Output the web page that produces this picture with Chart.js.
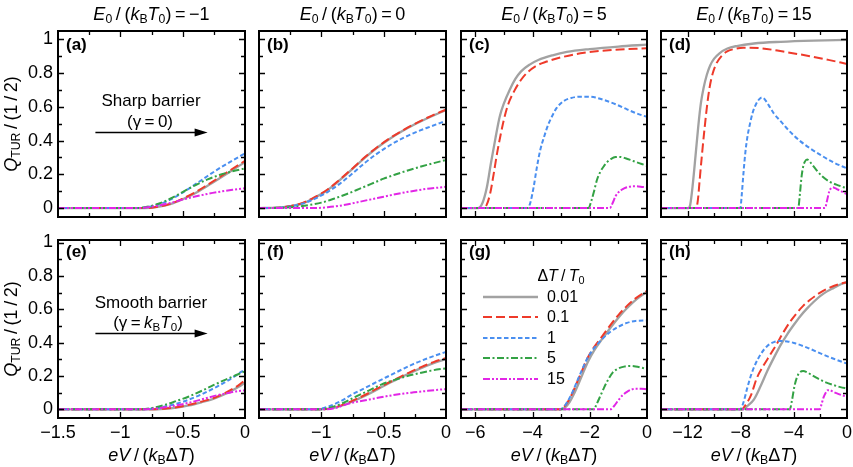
<!DOCTYPE html>
<html>
<head>
<meta charset="utf-8">
<script src="https://cdn.jsdelivr.net/npm/chart.js@4/dist/chart.umd.min.js"></script>
<style>
html,body{margin:0;padding:0;background:#fff;}
#wrap{position:relative;width:853px;height:467px;overflow:hidden;background:#fff;font-family:"Liberation Sans",Arial,Helvetica,sans-serif;color:#000;}
#wrap canvas{position:absolute;}
.t{position:absolute;white-space:nowrap;line-height:1;}
.t sub{font-size:0.68em;vertical-align:-0.28em;line-height:0;}
</style>
</head>
<body>
<div id="wrap"></div>
<script>
// ---------------- series meta ----------------
const DT_LABELS = ['0.01', '0.1', '1', '5', '15'];
const DT_COLORS = ['#a2a2a2', '#ee3a2a', '#4a8ff0', '#33a244', '#e226e6'];
const DT_DASH   = [[], [9, 4], [4.5, 2.5], [7, 2.5, 2, 2.5], [7, 2, 2, 2, 2, 2]];
const DT_WIDTH  = [2.3, 2, 2, 2, 2];

// ---------------- tick labels ----------------
const Y_TICKS     = [0, 0.2, 0.4, 0.6, 0.8, 1];
const X_TICKS_A   = [-1.5, -1, -0.5, 0];
const X_TICKS_B   = [-1, -0.5, 0];
const X_TICKS_C   = [-6, -4, -2, 0];
const X_TICKS_D   = [-12, -8, -4, 0];

// ---------------- panel (a): E0/(kBT0)=-1, sharp ----------------
const a_001_x = [-1.5, -0.8, -0.7, -0.6, -0.5, -0.4, -0.3, -0.2, -0.1, 0];
const a_001_y = [0, 0, 0.007, 0.023, 0.052, 0.088, 0.132, 0.178, 0.225, 0.272];
const a_01_x  = [-1.5, -0.8, -0.7, -0.6, -0.5, -0.4, -0.3, -0.2, -0.1, 0];
const a_01_y  = [0, 0, 0.008, 0.025, 0.056, 0.093, 0.138, 0.185, 0.233, 0.28];
const a_1_x   = [-1.5, -0.85, -0.8, -0.7, -0.6, -0.5, -0.4, -0.3, -0.2, -0.1, 0];
const a_1_y   = [0, 0, 0.004, 0.02, 0.05, 0.092, 0.14, 0.19, 0.238, 0.282, 0.324];
const a_5_x   = [-1.5, -0.85, -0.8, -0.7, -0.6, -0.5, -0.4, -0.3, -0.2, -0.1, 0];
const a_5_y   = [0, 0, 0.005, 0.024, 0.055, 0.095, 0.135, 0.17, 0.197, 0.218, 0.235];
const a_15_x  = [-1.5, -0.85, -0.8, -0.7, -0.6, -0.5, -0.4, -0.3, -0.2, -0.1, 0];
const a_15_y  = [0, 0, 0.003, 0.014, 0.03, 0.05, 0.068, 0.084, 0.097, 0.108, 0.117];

// ---------------- panel (b): E0/(kBT0)=0, sharp ----------------
const b_001_x = [-1.5, -1.35, -1.25, -1.15, -1.05, -0.95, -0.85, -0.75, -0.65, -0.55, -0.45, -0.35, -0.25, -0.15, -0.05, 0];
const b_001_y = [0, 0.002, 0.011, 0.028, 0.063, 0.107, 0.167, 0.232, 0.299, 0.359, 0.411, 0.456, 0.496, 0.532, 0.565, 0.580];
const b_01_x  = [-1.5, -1.35, -1.25, -1.15, -1.05, -0.95, -0.85, -0.75, -0.65, -0.55, -0.45, -0.35, -0.25, -0.15, -0.05, 0];
const b_01_y  = [0, 0.002, 0.012, 0.03, 0.066, 0.11, 0.17, 0.235, 0.302, 0.362, 0.414, 0.459, 0.499, 0.535, 0.568, 0.583];
const b_1_x   = [-1.5, -1.35, -1.25, -1.15, -1.05, -0.95, -0.85, -0.75, -0.65, -0.55, -0.45, -0.35, -0.25, -0.15, -0.05, 0];
const b_1_y   = [0, 0.002, 0.01, 0.026, 0.056, 0.095, 0.145, 0.205, 0.268, 0.324, 0.372, 0.413, 0.447, 0.476, 0.503, 0.516];
const b_5_x   = [-1.5, -1.3, -1.2, -1.1, -1.0, -0.9, -0.8, -0.7, -0.6, -0.5, -0.4, -0.3, -0.2, -0.1, 0];
const b_5_y   = [0, 0.002, 0.008, 0.018, 0.032, 0.055, 0.082, 0.112, 0.143, 0.174, 0.2, 0.224, 0.246, 0.266, 0.285];
const b_15_x  = [-1.5, -1.05, -0.95, -0.85, -0.75, -0.65, -0.55, -0.45, -0.35, -0.25, -0.15, -0.05, 0];
const b_15_y  = [0, 0, 0.005, 0.014, 0.028, 0.044, 0.059, 0.075, 0.09, 0.103, 0.114, 0.122, 0.126];

// ---------------- panel (c): E0/(kBT0)=5, sharp ----------------
const c_001_x = [-6.5, -5.9, -5.75, -5.6, -5.45, -5.3, -5.15, -5.0, -4.8, -4.6, -4.4, -4.1, -3.8, -3.3, -2.8, -2.0, -1.0, 0];
const c_001_y = [0, 0, 0.03, 0.12, 0.27, 0.41, 0.54, 0.62, 0.70, 0.765, 0.81, 0.85, 0.877, 0.905, 0.925, 0.942, 0.957, 0.968];
const c_01_x  = [-6.5, -5.72, -5.6, -5.48, -5.36, -5.24, -5.12, -5.0, -4.85, -4.65, -4.4, -4.2, -3.9, -3.5, -3.0, -2.2, -1.2, 0];
const c_01_y  = [0, 0, 0.02, 0.087, 0.2, 0.324, 0.43, 0.525, 0.615, 0.69, 0.76, 0.80, 0.84, 0.868, 0.893, 0.92, 0.937, 0.947];
const c_1_x   = [-6.5, -4.17, -4.08, -3.96, -3.85, -3.73, -3.6, -3.45, -3.3, -3.15, -2.9, -2.65, -2.35, -2.05, -1.8, -1.5, -1.1, -0.7, -0.35, 0];
const c_1_y   = [0, 0, 0.03, 0.126, 0.24, 0.344, 0.42, 0.495, 0.55, 0.595, 0.635, 0.652, 0.66, 0.66, 0.655, 0.64, 0.615, 0.585, 0.56, 0.54];
const c_5_x   = [-6.5, -2.04, -1.95, -1.85, -1.75, -1.63, -1.5, -1.38, -1.25, -1.1, -0.95, -0.75, -0.5, -0.25, 0];
const c_5_y   = [0, 0, 0.04, 0.1, 0.166, 0.215, 0.25, 0.275, 0.292, 0.302, 0.303, 0.295, 0.28, 0.265, 0.25];
const c_15_x  = [-6.5, -1.3, -1.2, -1.1, -1.0, -0.9, -0.8, -0.65, -0.5, -0.3, -0.15, 0];
const c_15_y  = [0, 0, 0.03, 0.07, 0.093, 0.107, 0.117, 0.125, 0.129, 0.128, 0.125, 0.123];

// ---------------- panel (d): E0/(kBT0)=15, sharp ----------------
const d_001_x = [-14, -11.95, -11.8, -11.6, -11.4, -11.2, -11.0, -10.8, -10.55, -10.3, -10.0, -9.6, -9.0, -8.3, -7.0, -5.0, -2.5, 0];
const d_001_y = [0, 0, 0.02, 0.146, 0.31, 0.48, 0.62, 0.71, 0.79, 0.845, 0.885, 0.917, 0.945, 0.96, 0.975, 0.985, 0.992, 0.996];
const d_01_x  = [-14, -11.35, -11.22, -11.09, -10.9, -10.71, -10.52, -10.33, -10.1, -9.82, -9.45, -9.06, -8.5, -7.8, -6.5, -4.8, -2.8, -1.4, 0];
const d_01_y  = [0, 0, 0.05, 0.166, 0.33, 0.48, 0.615, 0.72, 0.8, 0.858, 0.9, 0.927, 0.942, 0.95, 0.947, 0.927, 0.9, 0.878, 0.854];
const d_1_x   = [-14, -8.03, -7.92, -7.8, -7.65, -7.5, -7.3, -7.1, -6.85, -6.6, -6.4, -6.2, -5.9, -5.5, -5.0, -4.5, -4.0, -3.5, -2.8, -2.0, -1.0, 0];
const d_1_y   = [0, 0, 0.08, 0.2, 0.33, 0.42, 0.5, 0.565, 0.615, 0.645, 0.655, 0.645, 0.61, 0.56, 0.515, 0.47, 0.43, 0.395, 0.355, 0.315, 0.27, 0.235];
const d_5_x   = [-14, -3.67, -3.55, -3.42, -3.3, -3.17, -3.0, -2.85, -2.6, -2.3, -1.9, -1.3, -0.6, 0];
const d_5_y   = [0, 0, 0.08, 0.186, 0.245, 0.275, 0.287, 0.28, 0.255, 0.225, 0.19, 0.156, 0.133, 0.117];
const d_15_x  = [-14, -1.66, -1.5, -1.35, -1.2, -1.08, -0.9, -0.7, -0.5, -0.25, 0];
const d_15_y  = [0, 0, 0.045, 0.095, 0.118, 0.123, 0.118, 0.11, 0.102, 0.092, 0.081];

// ---------------- panel (e): E0/(kBT0)=-1, smooth ----------------
const e_001_x = [-1.5, -0.75, -0.65, -0.55, -0.45, -0.35, -0.25, -0.15, -0.05, 0];
const e_001_y = [0, 0, 0.003, 0.01, 0.023, 0.042, 0.064, 0.095, 0.135, 0.16];
const e_01_x  = [-1.5, -0.75, -0.65, -0.55, -0.45, -0.35, -0.25, -0.15, -0.05, 0];
const e_01_y  = [0, 0, 0.004, 0.012, 0.027, 0.046, 0.068, 0.102, 0.145, 0.175];
const e_1_x   = [-1.5, -0.82, -0.72, -0.62, -0.52, -0.42, -0.32, -0.22, -0.12, -0.05, 0];
const e_1_y   = [0, 0, 0.006, 0.02, 0.04, 0.067, 0.1, 0.138, 0.18, 0.215, 0.238];
const e_5_x   = [-1.5, -0.85, -0.75, -0.65, -0.55, -0.45, -0.35, -0.25, -0.15, -0.05, 0];
const e_5_y   = [0, 0, 0.008, 0.025, 0.05, 0.077, 0.11, 0.146, 0.18, 0.212, 0.228];
const e_15_x  = [-1.5, -0.82, -0.72, -0.62, -0.52, -0.42, -0.32, -0.22, -0.12, -0.05, 0];
const e_15_y  = [0, 0, 0.005, 0.015, 0.028, 0.045, 0.065, 0.085, 0.1, 0.11, 0.113];

// ---------------- panel (f): E0/(kBT0)=0, smooth ----------------
const f_001_x = [-1.5, -1.0, -0.9, -0.8, -0.7, -0.6, -0.5, -0.4, -0.3, -0.2, -0.1, 0];
const f_001_y = [0, 0, 0.008, 0.032, 0.064, 0.1, 0.14, 0.177, 0.213, 0.247, 0.277, 0.302];
const f_01_x  = [-1.5, -1.0, -0.9, -0.8, -0.7, -0.6, -0.5, -0.4, -0.3, -0.2, -0.1, 0];
const f_01_y  = [0, 0, 0.01, 0.035, 0.068, 0.105, 0.145, 0.182, 0.219, 0.253, 0.283, 0.308];
const f_1_x   = [-1.5, -1.05, -0.95, -0.85, -0.75, -0.65, -0.55, -0.45, -0.35, -0.25, -0.15, -0.05, 0];
const f_1_y   = [0, 0, 0.015, 0.047, 0.09, 0.128, 0.166, 0.203, 0.24, 0.275, 0.305, 0.332, 0.344];
const f_5_x   = [-1.5, -1.02, -0.92, -0.82, -0.72, -0.62, -0.52, -0.42, -0.32, -0.22, -0.12, 0];
const f_5_y   = [0, 0, 0.012, 0.04, 0.078, 0.112, 0.148, 0.175, 0.197, 0.216, 0.232, 0.246];
const f_15_x  = [-1.5, -0.98, -0.88, -0.78, -0.68, -0.58, -0.48, -0.38, -0.28, -0.18, -0.08, 0];
const f_15_y  = [0, 0, 0.01, 0.034, 0.05, 0.064, 0.078, 0.09, 0.1, 0.108, 0.116, 0.121];

// ---------------- panel (g): E0/(kBT0)=5, smooth ----------------
const g_001_x = [-6.5, -3.0, -2.85, -2.7, -2.55, -2.4, -2.25, -2.05, -1.85, -1.55, -1.25, -0.95, -0.65, -0.35, 0];
const g_001_y = [0, 0, 0.013, 0.045, 0.093, 0.15, 0.212, 0.29, 0.352, 0.425, 0.495, 0.56, 0.615, 0.662, 0.705];
const g_01_x  = [-6.5, -3.05, -2.9, -2.75, -2.6, -2.45, -2.3, -2.1, -1.9, -1.6, -1.3, -1.0, -0.7, -0.4, 0];
const g_01_y  = [0, 0, 0.015, 0.05, 0.1, 0.16, 0.22, 0.3, 0.36, 0.43, 0.5, 0.565, 0.62, 0.665, 0.71];
const g_1_x   = [-6.5, -3.05, -2.9, -2.75, -2.6, -2.45, -2.3, -2.1, -1.9, -1.6, -1.3, -1.0, -0.7, -0.4, 0];
const g_1_y   = [0, 0, 0.015, 0.055, 0.105, 0.165, 0.225, 0.3, 0.355, 0.415, 0.462, 0.495, 0.518, 0.53, 0.533];
const g_5_x   = [-6.5, -1.86, -1.75, -1.63, -1.5, -1.35, -1.2, -1.0, -0.8, -0.6, -0.4, -0.2, 0];
const g_5_y   = [0, 0, 0.035, 0.08, 0.13, 0.18, 0.22, 0.245, 0.256, 0.26, 0.257, 0.25, 0.24];
const g_15_x  = [-6.5, -1.28, -1.15, -1.0, -0.85, -0.7, -0.55, -0.4, -0.2, 0];
const g_15_y  = [0, 0, 0.02, 0.055, 0.085, 0.105, 0.118, 0.124, 0.124, 0.12];

// ---------------- panel (h): E0/(kBT0)=15, smooth ----------------
const h_001_x = [-14, -7.85, -7.5, -7.0, -6.5, -6.0, -5.5, -5.0, -4.5, -4.0, -3.5, -3.0, -2.5, -2.0, -1.5, -1.0, -0.5, 0];
const h_001_y = [0, 0, 0.02, 0.06, 0.14, 0.23, 0.31, 0.385, 0.45, 0.507, 0.56, 0.605, 0.645, 0.68, 0.707, 0.728, 0.748, 0.762];
const h_01_x  = [-14, -7.95, -7.6, -7.2, -6.8, -6.3, -5.8, -5.3, -4.8, -4.3, -3.8, -3.3, -2.8, -2.3, -1.8, -1.3, -0.6, 0];
const h_01_y  = [0, 0, 0.03, 0.09, 0.185, 0.26, 0.325, 0.39, 0.46, 0.523, 0.575, 0.62, 0.655, 0.685, 0.71, 0.73, 0.75, 0.762];
const h_1_x   = [-14, -8.03, -7.8, -7.5, -7.2, -6.9, -6.5, -6.0, -5.5, -5.0, -4.5, -4.0, -3.0, -2.0, -1.0, 0];
const h_1_y   = [0, 0, 0.04, 0.13, 0.21, 0.27, 0.33, 0.38, 0.403, 0.41, 0.407, 0.398, 0.37, 0.335, 0.303, 0.274];
const h_5_x   = [-14, -4.3, -4.15, -3.95, -3.75, -3.55, -3.3, -3.0, -2.6, -2.2, -1.6, -1.0, -0.5, 0];
const h_5_y   = [0, 0, 0.05, 0.14, 0.195, 0.222, 0.23, 0.222, 0.203, 0.185, 0.162, 0.145, 0.133, 0.125];
const h_15_x  = [-14, -2.05, -1.9, -1.75, -1.6, -1.45, -1.3, -1.1, -0.8, -0.4, 0];
const h_15_y  = [0, 0, 0.035, 0.075, 0.1, 0.115, 0.115, 0.108, 0.097, 0.085, 0.076];

// ---------------- layout ----------------
const FONT = '"Liberation Sans", Arial, Helvetica, sans-serif';
const COL_L = [58, 259, 461, 661];
const COL_W = [187, 187, 186, 186];
const ROW_T = [31, 240];
const ROW_H = [186, 178];
const ROW_Y = [[-0.053, 1.049], [-0.052, 1.015]];

const PANELS = [
  {tag:'(a)', row:0, col:0, xmin:-1.5, xmax:0, xt:X_TICKS_A, step:0.25, major:0.5,
   s:[[a_001_x,a_001_y],[a_01_x,a_01_y],[a_1_x,a_1_y],[a_5_x,a_5_y],[a_15_x,a_15_y]],
   arrow:{show:true, x0:-1.2, x1:-0.3, y:0.45}},
  {tag:'(b)', row:0, col:1, xmin:-1.5, xmax:0, xt:X_TICKS_B, step:0.25, major:0.5,
   s:[[b_001_x,b_001_y],[b_01_x,b_01_y],[b_1_x,b_1_y],[b_5_x,b_5_y],[b_15_x,b_15_y]]},
  {tag:'(c)', row:0, col:2, xmin:-6.5, xmax:0, xt:X_TICKS_C, step:1, major:2,
   s:[[c_001_x,c_001_y],[c_01_x,c_01_y],[c_1_x,c_1_y],[c_5_x,c_5_y],[c_15_x,c_15_y]]},
  {tag:'(d)', row:0, col:3, xmin:-14, xmax:0, xt:X_TICKS_D, step:2, major:4,
   s:[[d_001_x,d_001_y],[d_01_x,d_01_y],[d_1_x,d_1_y],[d_5_x,d_5_y],[d_15_x,d_15_y]]},
  {tag:'(e)', row:1, col:0, xmin:-1.5, xmax:0, xt:X_TICKS_A, step:0.25, major:0.5,
   s:[[e_001_x,e_001_y],[e_01_x,e_01_y],[e_1_x,e_1_y],[e_5_x,e_5_y],[e_15_x,e_15_y]],
   arrow:{show:true, x0:-1.2, x1:-0.3, y:0.456}},
  {tag:'(f)', row:1, col:1, xmin:-1.5, xmax:0, xt:X_TICKS_B, step:0.25, major:0.5,
   s:[[f_001_x,f_001_y],[f_01_x,f_01_y],[f_1_x,f_1_y],[f_5_x,f_5_y],[f_15_x,f_15_y]]},
  {tag:'(g)', row:1, col:2, xmin:-6.5, xmax:0, xt:X_TICKS_C, step:1, major:2,
   s:[[g_001_x,g_001_y],[g_01_x,g_01_y],[g_1_x,g_1_y],[g_5_x,g_5_y],[g_15_x,g_15_y]]},
  {tag:'(h)', row:1, col:3, xmin:-14, xmax:0, xt:X_TICKS_D, step:2, major:4,
   s:[[h_001_x,h_001_y],[h_01_x,h_01_y],[h_1_x,h_1_y],[h_5_x,h_5_y],[h_15_x,h_15_y]]}
];

function fmt(v) {
  v = Number(v);
  if (Math.abs(v) < 1e-9) return '0';
  const s = String(+Math.abs(v).toFixed(3));
  return (v < 0 ? '\u2212' : '') + s;
}

// inward tick marks + frame
const framePlugin = {
  id: 'frame',
  afterDatasetsDraw(chart, args, o) {
    const {ctx, chartArea: ca, scales: {x, y}} = chart;
    ctx.save();
    ctx.strokeStyle = '#000';
    ctx.lineWidth = 1.3;
    ctx.setLineDash([]);
    ctx.beginPath();
    const xs = o.step, xm = o.major;
    const k0 = Math.ceil(x.min / xs - 1e-6), k1 = Math.floor(x.max / xs + 1e-6);
    for (let k = k0; k <= k1; k++) {
      const v = k * xs;
      if (Math.abs(v - x.min) < 1e-6 || Math.abs(v - x.max) < 1e-6) continue;
      const isMaj = Math.abs(v / xm - Math.round(v / xm)) < 1e-6;
      const len = isMaj ? 6 : 4;
      const px = Math.round(x.getPixelForValue(v)) + 0.5;
      ctx.moveTo(px, ca.bottom); ctx.lineTo(px, ca.bottom - len);
      ctx.moveTo(px, ca.top); ctx.lineTo(px, ca.top + len);
    }
    for (let k = 0; k <= 10; k++) {
      const v = k / 10;
      const len = (k % 2 === 0) ? 6 : 4;
      const py = Math.round(y.getPixelForValue(v)) + 0.5;
      ctx.moveTo(ca.left, py); ctx.lineTo(ca.left + len, py);
      ctx.moveTo(ca.right, py); ctx.lineTo(ca.right - len, py);
    }
    ctx.stroke();
    ctx.lineWidth = 2;
    ctx.strokeRect(ca.left, ca.top, ca.right - ca.left, ca.bottom - ca.top);
    ctx.restore();
  }
};

// annotation arrow (in data coordinates)
const arrowPlugin = {
  id: 'arrow',
  afterDatasetsDraw(chart, args, o) {
    if (!o || !o.show) return;
    const {ctx, scales: {x, y}} = chart;
    const x0 = x.getPixelForValue(o.x0), x1 = x.getPixelForValue(o.x1), yy = Math.round(y.getPixelForValue(o.y)) + 0.5;
    ctx.save();
    ctx.strokeStyle = '#000'; ctx.fillStyle = '#000'; ctx.lineWidth = 1.5; ctx.setLineDash([]);
    ctx.beginPath(); ctx.moveTo(x0, yy); ctx.lineTo(x1 - 8, yy); ctx.stroke();
    ctx.beginPath(); ctx.moveTo(x1, yy); ctx.lineTo(x1 - 13, yy - 4); ctx.lineTo(x1 - 13, yy + 4); ctx.closePath(); ctx.fill();
    ctx.restore();
  }
};

const wrap = document.getElementById('wrap');

function addText(html, x, y, size, extra) {
  extra = extra || {};
  const d = document.createElement('div');
  d.className = 't';
  d.innerHTML = html;
  d.style.left = x + 'px';
  d.style.top = y + 'px';
  d.style.fontSize = size + 'px';
  let tf = extra.anchor === 'left' ? 'translate(0,-50%)' : 'translate(-50%,-50%)';
  if (extra.rotate) tf += ' rotate(' + extra.rotate + 'deg)';
  d.style.transform = tf;
  if (extra.bold) d.style.fontWeight = 'bold';
  wrap.appendChild(d);
  return d;
}

function makePanel(p) {
  const L = COL_L[p.col], W = COL_W[p.col], T = ROW_T[p.row], H = ROW_H[p.row];
  const ml = p.col === 0 ? 58 : 12, mr = 12, mt = 18, mb = p.row === 1 ? 50 : 18;
  const cv = document.createElement('canvas');
  cv.width = ml + W + mr; cv.height = mt + H + mb;
  cv.style.left = (L - ml) + 'px'; cv.style.top = (T - mt) + 'px';
  cv.style.width = cv.width + 'px'; cv.style.height = cv.height + 'px';
  wrap.appendChild(cv);
  const order = [4, 3, 2, 1, 0]; // first drawn last -> gray at bottom, magenta on top
  const datasets = order.map(i => ({
    label: DT_LABELS[i],
    data: p.s[i][0].map((xv, k) => ({x: xv, y: p.s[i][1][k]})),
    borderColor: DT_COLORS[i],
    backgroundColor: DT_COLORS[i],
    borderWidth: DT_WIDTH[i],
    borderDash: DT_DASH[i],
    borderCapStyle: 'butt',
    pointRadius: 0,
    fill: false,
    cubicInterpolationMode: 'monotone'
  }));
  const [ymin, ymax] = ROW_Y[p.row];
  new Chart(cv, {
    type: 'line',
    data: {datasets},
    options: {
      responsive: false, animation: false, devicePixelRatio: 1,
      layout: {padding: {left: 0, right: mr, top: mt, bottom: 0}},
      plugins: {
        legend: {display: false}, tooltip: {enabled: false},
        frame: {step: p.step, major: p.major},
        arrow: p.arrow || {show: false}
      },
      scales: {
        x: {
          type: 'linear', min: p.xmin, max: p.xmax,
          afterFit(s) { s.height = mb; },
          afterBuildTicks(s) { s.ticks = p.xt.map(v => ({value: v})); },
          ticks: {display: p.row === 1, padding: 4, autoSkip: false, maxRotation: 0,
                  font: {size: 18, family: FONT}, color: '#000', callback: fmt},
          grid: {display: false, drawTicks: false},
          border: {display: false}
        },
        y: {
          type: 'linear', min: ymin, max: ymax,
          afterFit(s) { s.width = ml; },
          afterBuildTicks(s) { s.ticks = Y_TICKS.map(v => ({value: v})); },
          ticks: {display: p.col === 0, padding: 5, autoSkip: false,
                  font: {size: 18, family: FONT}, color: '#000', callback: fmt},
          grid: {display: false, drawTicks: false},
          border: {display: false}
        }
      }
    },
    plugins: [framePlugin, arrowPlugin]
  });
  // panel tag
  addText(p.tag, L + 8, T + (p.row === 0 ? 13 : 11), 17, {anchor: 'left', bold: true});
}

PANELS.forEach(makePanel);

// column titles
const E0_VALUES = ['\u22121', '0', '5', '15'];
E0_VALUES.forEach((v, c) => {
  addText('<i>E</i><sub>0</sub>&#8201;/&#8201;(<i>k</i><sub>B</sub><i>T</i><sub>0</sub>)&#8201;=&#8201;' + v,
          COL_L[c] + COL_W[c] / 2, 14, 18);
});

// y titles
ROW_T.forEach((t, r) => {
  addText('<i>Q</i><sub>TUR</sub>&#8201;/&#8201;(1&#8201;/&#8201;2)', 11, t + ROW_H[r] / 2, 18, {rotate: -90});
});

// x titles
COL_L.forEach((l, c) => {
  addText('<i>eV</i>&#8201;/&#8201;(<i>k</i><sub>B</sub>&Delta;<i>T</i>)', l + COL_W[c] / 2, 455, 18);
});

// annotations
addText('Sharp barrier', 151, 100, 17);
addText('(&gamma;&#8201;=&#8201;0)', 150, 121, 17);
addText('Smooth barrier', 151, 302, 17);
addText('(&gamma;&#8201;=&#8201;<i>k</i><sub>B</sub><i>T</i><sub>0</sub>)', 148, 322, 17);

// legend in panel (g)
addText('&Delta;<i>T</i>&#8201;/&#8201;<i>T</i><sub>0</sub>', 561, 276, 16);
const LEG_Y0 = 297, LEG_DY = 20.4;
DT_LABELS.forEach((lab, i) => {
  const yy = LEG_Y0 + i * LEG_DY;
  const svgNS = 'http://www.w3.org/2000/svg';
  const svg = document.createElementNS(svgNS, 'svg');
  svg.setAttribute('width', '56'); svg.setAttribute('height', '6');
  svg.style.position = 'absolute'; svg.style.left = '483px'; svg.style.top = (yy - 3) + 'px';
  const ln = document.createElementNS(svgNS, 'line');
  ln.setAttribute('x1', '0'); ln.setAttribute('x2', '55'); ln.setAttribute('y1', '3'); ln.setAttribute('y2', '3');
  ln.setAttribute('stroke', DT_COLORS[i]); ln.setAttribute('stroke-width', String(DT_WIDTH[i]));
  if (DT_DASH[i].length) ln.setAttribute('stroke-dasharray', DT_DASH[i].join(' '));
  svg.appendChild(ln);
  wrap.appendChild(svg);
  addText(lab, 547, yy, 16, {anchor: 'left'});
});
</script>
</body>
</html>
